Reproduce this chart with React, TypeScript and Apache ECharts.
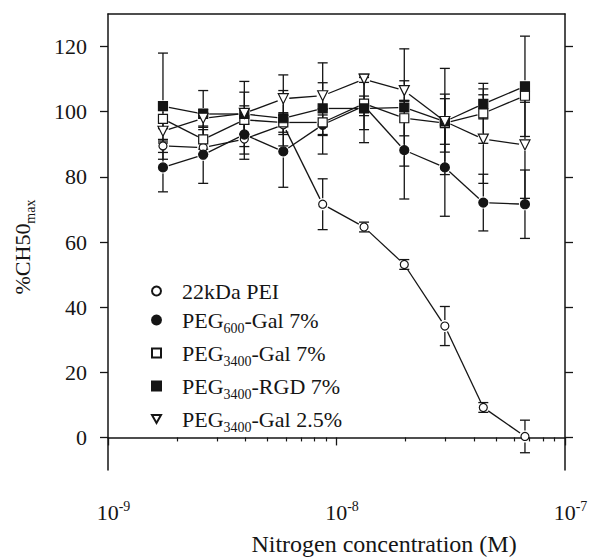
import React, { useEffect, useRef } from 'react';
import * as echarts from 'echarts';

// Nitrogen concentration (M) of each measured point
const concentration = [1.74e-9, 2.61e-9, 3.95e-9, 5.85e-9, 8.7e-9, 1.32e-8, 1.98e-8, 2.98e-8, 4.39e-8, 6.68e-8];

// %CH50max values and error (half-width) per series
const pei = [89.5, 89, 91.6, 96, 71.6, 64.6, 53.1, 34.2, 9.2, 0.3];
const peiErr = [2, 2, 4.6, 3, 7.8, 1.5, 1.5, 6, 1.5, 5];
const peg600Gal7 = [82.9, 86.8, 93, 87.8, 96, 101.8, 88.2, 82.9, 72.1, 71.6];
const peg600Gal7Err = [7.5, 8.8, 7.6, 11, 3, 3, 15, 15, 8.7, 10.5];
const peg3400Gal7 = [97.8, 91.5, 97.5, 96.7, 96.7, 102.5, 98, 96.5, 99.5, 104.9];
const peg3400Gal7Err = [3, 3, 4.3, 3, 4, 8, 5.4, 8.9, 9.2, 2];
const peg3400Rgd7 = [101.7, 99.3, 99.3, 98, 101, 101, 101.3, 97, 102.4, 107.8];
const peg3400Rgd7Err = [16.3, 7.2, 10, 8.5, 14, 10.5, 18, 16.3, 4.6, 15.4];
const peg3400Gal25 = [94, 98, 99.5, 104, 104.9, 110, 106.5, 97, 91.6, 89.8];
const peg3400Gal25Err = [3, 2.8, 6.5, 7.3, 4, 1, 3, 7, 13.6, 16.4];

// Axis ticks
const yTickValues = [0, 20, 40, 60, 80, 100, 120];
const xMinorTickValues = [2e-9, 3e-9, 4e-9, 5e-9, 6e-9, 7e-9, 8e-9, 9e-9, 2e-8, 3e-8, 4e-8, 5e-8, 6e-8, 7e-8, 8e-8, 9e-8];

const seriesNames = ['22kDa PEI', 'PEG600-Gal 7%', 'PEG3400-Gal 7%', 'PEG3400-RGD 7%', 'PEG3400-Gal 2.5%'];
const seriesValues = [pei, peg600Gal7, peg3400Gal7, peg3400Rgd7, peg3400Gal25];
const seriesErrors = [peiErr, peg600Gal7Err, peg3400Gal7Err, peg3400Rgd7Err, peg3400Gal25Err];

const FONT = 'Liberation Serif, serif';
const INK = '#151515';
const TRI_DOWN = 'path://M0,0L10,0L5,9Z';

const markerStyles = [
  { symbol: 'circle', size: 8, fill: '#ffffff' },
  { symbol: 'circle', size: 9, fill: INK },
  { symbol: 'rect', size: 9, fill: '#ffffff' },
  { symbol: 'rect', size: 9, fill: INK },
  { symbol: TRI_DOWN, size: 10, fill: '#ffffff' },
];

const LINE_GAP = 6;
const ERR_GAP = 6;
const CAP = 5;

export default function App() {
  const ref = useRef<HTMLDivElement>(null);

  useEffect(() => {
    if (!ref.current) return;
    const chart = echarts.init(ref.current, null, { renderer: 'svg' });

    const segData: number[][] = [];
    const errData: number[][] = [];
    seriesValues.forEach((vals, s) => {
      for (let i = 0; i < vals.length - 1; i++) {
        segData.push([concentration[i], vals[i], concentration[i + 1], vals[i + 1]]);
      }
      vals.forEach((v, i) => {
        errData.push([concentration[i], v, seriesErrors[s][i]]);
      });
    });

    const lineSeries: any = {
      type: 'custom',
      xAxisIndex: 0,
      yAxisIndex: 0,
      silent: true,
      encode: { x: [0, 2], y: [1, 3] },
      data: segData,
      renderItem: (params: any, api: any) => {
        const p1 = api.coord([api.value(0), api.value(1)]);
        const p2 = api.coord([api.value(2), api.value(3)]);
        const dx = p2[0] - p1[0];
        const dy = p2[1] - p1[1];
        const len = Math.sqrt(dx * dx + dy * dy);
        if (len <= 2 * LINE_GAP + 1) return null;
        const ux = dx / len;
        const uy = dy / len;
        return {
          type: 'line',
          shape: {
            x1: p1[0] + ux * LINE_GAP,
            y1: p1[1] + uy * LINE_GAP,
            x2: p2[0] - ux * LINE_GAP,
            y2: p2[1] - uy * LINE_GAP,
          },
          style: { stroke: INK, lineWidth: 1.3 },
        };
      },
    };

    const errSeries: any = {
      type: 'custom',
      xAxisIndex: 0,
      yAxisIndex: 0,
      silent: true,
      encode: { x: 0, y: 1 },
      data: errData,
      renderItem: (params: any, api: any) => {
        const x = api.value(0);
        const y = api.value(1);
        const e = api.value(2);
        const c = api.coord([x, y]);
        const top = api.coord([x, y + e]);
        const bot = api.coord([x, y - e]);
        const style = { stroke: INK, lineWidth: 1.3 };
        const children: any[] = [
          { type: 'line', shape: { x1: c[0] - CAP, y1: top[1], x2: c[0] + CAP, y2: top[1] }, style },
          { type: 'line', shape: { x1: c[0] - CAP, y1: bot[1], x2: c[0] + CAP, y2: bot[1] }, style },
        ];
        if (top[1] < c[1] - ERR_GAP) {
          children.push({ type: 'line', shape: { x1: c[0], y1: top[1], x2: c[0], y2: c[1] - ERR_GAP }, style });
        }
        if (bot[1] > c[1] + ERR_GAP) {
          children.push({ type: 'line', shape: { x1: c[0], y1: c[1] + ERR_GAP, x2: c[0], y2: bot[1] }, style });
        }
        return { type: 'group', children };
      },
    };

    const scatterSeries = seriesNames.map((name, s) => ({
      name,
      type: 'scatter',
      xAxisIndex: 0,
      yAxisIndex: 0,
      symbol: markerStyles[s].symbol,
      symbolSize: markerStyles[s].size,
      itemStyle: {
        color: markerStyles[s].fill,
        borderColor: INK,
        borderWidth: 1.2,
        opacity: 1,
      },
      data: seriesValues[s].map((v, i) => [concentration[i], v]),
      z: 5,
    }));

    const legendFormatter = (name: string) => {
      const m = name.match(/^PEG(\d+)(.*)$/);
      if (!m) return `{f|${name}}`;
      return `{f|PEG}{s|${m[1]}}{b|${m[2]}}`;
    };

    const option: any = {
      animation: false,
      backgroundColor: '#ffffff',
      textStyle: { fontFamily: FONT, color: INK },
      grid: { left: 108, top: 14, width: 457, height: 456, containLabel: false },
      xAxis: [
        {
          type: 'log',
          logBase: 10,
          min: 1e-9,
          max: 1e-7,
          position: 'bottom',
          axisLine: { show: true, lineStyle: { color: INK, width: 1.5 } },
          axisTick: { show: true, inside: false, length: 8, lineStyle: { color: INK, width: 1.3 } },
          minorTick: { show: false },
          splitLine: { show: false },
          axisLabel: {
            show: true,
            margin: 29,
            fontFamily: FONT,
            formatter: (v: number) => `{b|10}{s|${Math.round(Math.log10(v))}}`,
            rich: {
              b: { fontSize: 22, lineHeight: 26, fontFamily: FONT, color: INK, padding: [0, 0, 0, 11] },
              s: { fontSize: 14, lineHeight: 12, fontFamily: FONT, color: INK, verticalAlign: 'top' },
            },
          },
        },
        {
          type: 'log',
          logBase: 10,
          min: 1e-9,
          max: 1e-7,
          position: 'bottom',
          axisLine: { show: false },
          axisTick: {
            show: true,
            inside: false,
            length: 4,
            customValues: xMinorTickValues,
            lineStyle: { color: INK, width: 1.2 },
          },
          axisLabel: { show: false },
          splitLine: { show: false },
        },
        {
          type: 'log',
          logBase: 10,
          min: 1e-9,
          max: 1e-7,
          position: 'top',
          axisLine: { show: true, lineStyle: { color: INK, width: 1.5 } },
          axisTick: { show: false },
          axisLabel: { show: false },
          splitLine: { show: false },
        },
      ],
      yAxis: [
        {
          type: 'value',
          min: -10,
          max: 130,
          position: 'left',
          axisLine: { show: true, lineStyle: { color: INK, width: 1.5 } },
          axisTick: { show: true, inside: false, length: 8, customValues: yTickValues, lineStyle: { color: INK, width: 1.3 } },
          axisLabel: { show: true, margin: 21, customValues: yTickValues, fontSize: 22, fontFamily: FONT, color: INK },
          splitLine: { show: false },
        },
        {
          type: 'value',
          min: -10,
          max: 130,
          position: 'right',
          axisLine: { show: true, lineStyle: { color: INK, width: 1.5 } },
          axisTick: { show: true, inside: false, length: 8, customValues: yTickValues, lineStyle: { color: INK, width: 1.3 } },
          axisLabel: { show: false },
          splitLine: { show: false },
        },
      ],
      legend: {
        orient: 'vertical',
        left: 146,
        top: 275,
        itemWidth: 9,
        itemHeight: 9,
        itemGap: 7,
        selectedMode: false,
        data: seriesNames.map((name, s) => ({ name, icon: markerStyles[s].symbol })),
        formatter: legendFormatter,
        textStyle: {
          fontFamily: FONT,
          fontSize: 22,
          color: INK,
          rich: {
            f: { fontSize: 22, lineHeight: 30, fontFamily: FONT, color: INK, padding: [0, 0, 0, 16] },
            b: { fontSize: 22, lineHeight: 30, fontFamily: FONT, color: INK },
            s: { fontSize: 14, lineHeight: 10, fontFamily: FONT, color: INK, verticalAlign: 'bottom' },
          },
        },
      },
      graphic: [
        {
          type: 'text',
          x: 22,
          y: 247,
          rotation: Math.PI / 2,
          style: {
            text: '{b|%CH50}{s|max}',
            align: 'center',
            verticalAlign: 'middle',
            fill: INK,
            font: '22px Liberation Serif, serif',
            rich: {
              b: { fontSize: 22, lineHeight: 30, fontFamily: FONT, fill: INK, color: INK },
              s: { fontSize: 14, lineHeight: 10, fontFamily: FONT, fill: INK, color: INK, verticalAlign: 'bottom' },
            },
          },
        },
        {
          type: 'text',
          x: 384,
          y: 544,
          style: {
            text: 'Nitrogen concentration (M)',
            font: '24px Liberation Serif, serif',
            fontSize: 24,
            fontFamily: FONT,
            fill: INK,
            align: 'center',
            verticalAlign: 'middle',
          },
        },
      ],
      series: [lineSeries, errSeries, ...scatterSeries],
    };

    chart.setOption(option);
    return () => chart.dispose();
  }, []);

  return (
    <div
      ref={ref}
      style={{ position: 'absolute', left: 0, top: 0, width: 592, height: 557, background: '#fff' }}
    />
  );
}
